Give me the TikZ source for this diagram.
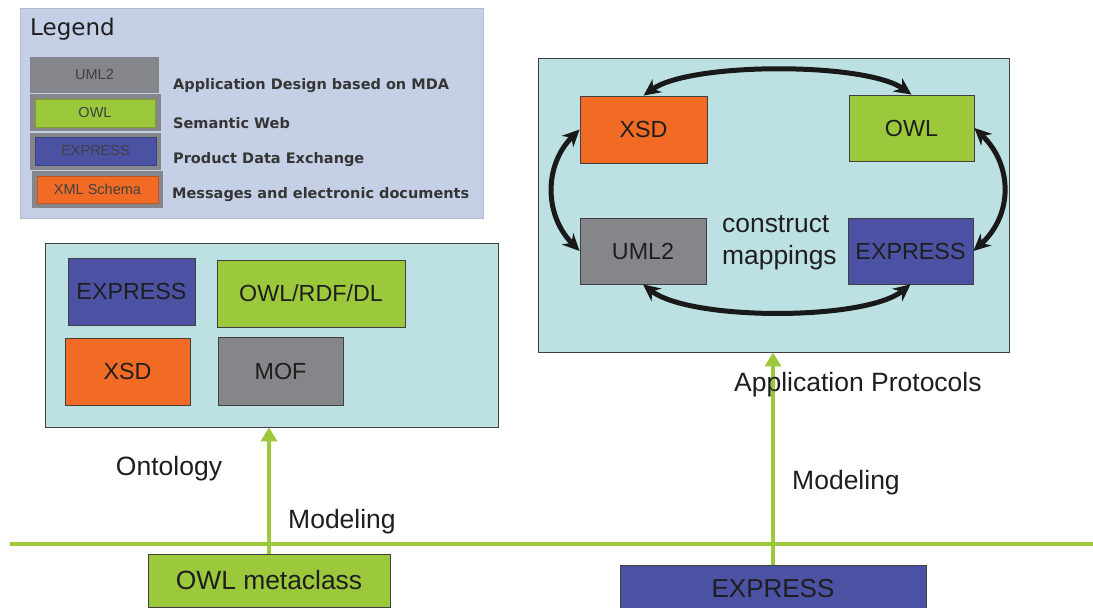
\documentclass[tikz,border=0pt]{standalone}
\usepackage{fontspec}
\setmainfont{Liberation Sans}
\newfontfamily\dejavu{DejaVu Sans}
\usetikzlibrary{arrows.meta}
\definecolor{legbg}{HTML}{C5D0E6}
\definecolor{panelbg}{HTML}{BDE0E3}
\definecolor{cor}{HTML}{F26B25}
\definecolor{cgr}{HTML}{9BC93B}
\definecolor{cbl}{HTML}{4B52A3}
\definecolor{cgy}{HTML}{85868A}
\definecolor{edgec}{HTML}{404040}
\definecolor{txt}{HTML}{1E1E1E}
\begin{document}
\begin{tikzpicture}[x=1pt,y=-1pt,
  panel/.style={draw=edgec, line width=0.8pt, fill=panelbg, inner sep=0pt},
  colbox/.style={draw=edgec, line width=0.8pt, inner sep=0pt, text=txt, font=\fontsize{23.3}{28}\selectfont},
  lbox/.style={inner sep=0pt, text=txt!85, font=\fontsize{14.5}{17}\selectfont},
  ldesc/.style={anchor=west, inner sep=0pt, text=txt!90, font=\dejavu\bfseries\fontsize{14.5}{17}\selectfont},
  lbl/.style={inner sep=0pt, text=txt, font=\fontsize{26.5}{31}\selectfont},
  maparrow/.style={line width=5pt, black!90, {Stealth[length=17pt,width=16pt]}-{Stealth[length=17pt,width=16pt]}},
  greenarrow/.style={cgr, -{Triangle[length=14pt,width=16pt]}}
]
\useasboundingbox (0,0) rectangle (1093,608);
\fill[white] (0,0) rectangle (1093,608);

% Legend
\node[fill=legbg, draw=legbg!90!black, line width=0.4pt, minimum width=463pt, minimum height=210pt, inner sep=0pt] (legend) at (251.5,113) {};
\node[anchor=west, inner sep=0pt, text=txt, font=\dejavu\fontsize{23}{26}\selectfont] (legtitle) at (30,29.5) {Legend};
\node[lbox, fill=cgy, minimum width=129pt, minimum height=36pt] (lguml) at (94.5,75) {UML2};
\node[fill=cgy, minimum width=131pt, minimum height=37pt, inner sep=0pt] (lgowlo) at (95.5,112.5) {};
\node[lbox, fill=cgr, draw=cgr!80!black, line width=0.4pt, minimum width=120pt, minimum height=28pt] (lgowl) at (95,113) {OWL};
\node[fill=cgy, minimum width=131pt, minimum height=37pt, inner sep=0pt] (lgexpo) at (95.5,151.5) {};
\node[lbox, fill=cbl, draw=cbl!80!black, line width=0.4pt, minimum width=121pt, minimum height=28pt] (lgexp) at (95.5,151) {EXPRESS};
\node[fill=cgy, minimum width=131pt, minimum height=37pt, inner sep=0pt] (lgxmlo) at (97.5,189.5) {};
\node[lbox, fill=cor, draw=cor!80!black, line width=0.4pt, minimum width=121pt, minimum height=27pt] (lgxml) at (97.5,189.5) {XML Schema};
\node[ldesc] (d1) at (173,85.5) {Application Design based on MDA};
\node[ldesc] (d2) at (173,123.5) {Semantic Web};
\node[ldesc] (d3) at (173,159.5) {Product Data Exchange};
\node[ldesc] (d4) at (172,194.5) {Messages and electronic documents};

% Left panel
\node[panel, minimum width=453pt, minimum height=184pt] (lpanel) at (271.5,335) {};
\node[colbox, fill=cbl, minimum width=127pt, minimum height=67pt] (lexp) at (131.5,291.5) {EXPRESS};
\node[colbox, fill=cgr, minimum width=188pt, minimum height=67pt] (lowl) at (311,293.5) {OWL/RDF/DL};
\node[colbox, fill=cor, minimum width=125pt, minimum height=67pt] (lxsd) at (127.5,371.5) {XSD};
\node[colbox, fill=cgy, minimum width=125pt, minimum height=68pt] (lmof) at (280.5,371) {MOF};

% Right panel
\node[panel, minimum width=471pt, minimum height=294pt] (rpanel) at (773.5,205) {};
\node[colbox, fill=cor, minimum width=127pt, minimum height=67pt] (rxsd) at (643.5,129.5) {XSD};
\node[colbox, fill=cgr, minimum width=125pt, minimum height=66pt] (rowl) at (911.5,128) {OWL};
\node[colbox, fill=cgy, minimum width=126pt, minimum height=66pt] (ruml) at (643,251) {UML2};
\node[colbox, fill=cbl, minimum width=125pt, minimum height=66pt] (rexp) at (910.5,251) {EXPRESS};
\node[lbl, anchor=west, align=left, font=\fontsize{26.4}{32}\selectfont] (cm) at (722,243) {construct\\mappings};

\draw[maparrow] (rxsd.north) .. controls (690,62) and (865,62) .. (rowl.north);
\draw[maparrow] (rxsd.west) .. controls (544,165) and (544,215) .. (ruml.west);
\draw[maparrow] (rowl.east) .. controls (1013,165) and (1013,215) .. (rexp.east);
\draw[maparrow] (ruml.south) .. controls (690,321) and (865,321) .. (rexp.south);

% Baseline
\coordinate (hl) at (10,544);
\coordinate (hr) at (1093,544);
\draw[cgr, line width=4.5pt] (hl) -- (hr);

% Bottom boxes
\node[colbox, fill=cgr, minimum width=242pt, minimum height=53pt, font=\fontsize{26.4}{30}\selectfont] (owlmeta) at (269,580.5) {OWL metaclass};
\node[colbox, fill=cbl, minimum width=306pt, minimum height=47pt, font=\fontsize{26}{30}\selectfont] (bexp) at (773,588.5) {EXPRESS};

\draw[greenarrow, line width=4pt] (owlmeta.north) -- (owlmeta.north |- lpanel.south);
\draw[greenarrow, line width=3.2pt] (bexp.north) -- (bexp.north |- rpanel.south);

% Labels
\node[lbl] (onto) at (169,469) {Ontology};
\node[lbl, anchor=west] (mod1) at (288,521.5) {Modeling};
\node[lbl, anchor=west] (mod2) at (792,483) {Modeling};
\node[lbl, anchor=west] (ap) at (734,385) {Application Protocols};
\end{tikzpicture}
\end{document}
